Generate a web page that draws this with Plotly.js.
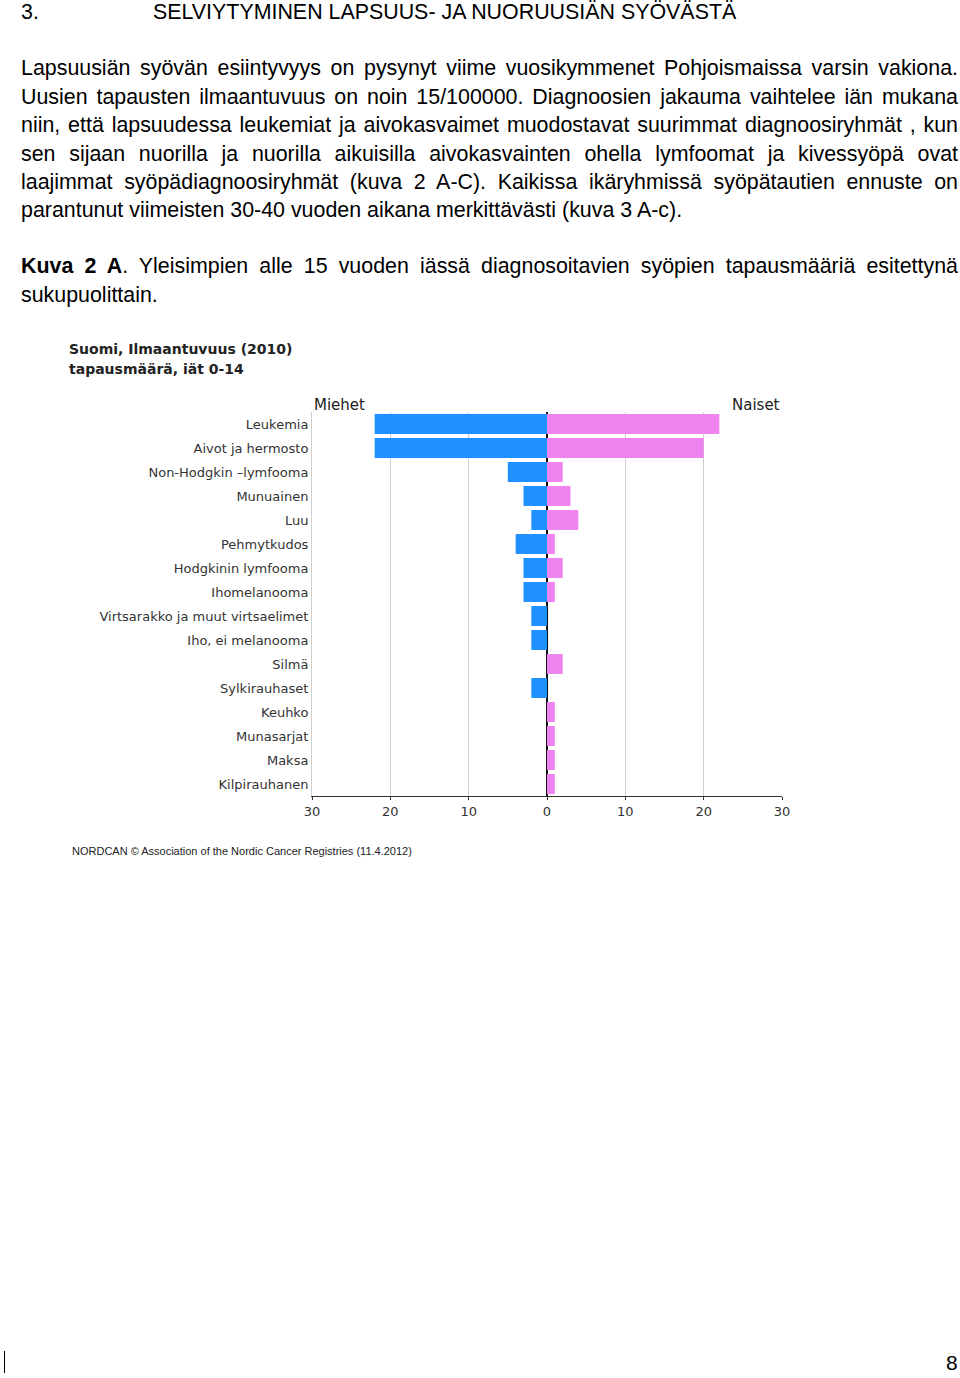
<!DOCTYPE html>
<html>
<head>
<meta charset="utf-8">
<script src="https://cdn.plot.ly/plotly-3.0.1.min.js"></script>
<style>
  html, body { margin:0; padding:0; background:#fff; }
  body { width:960px; height:1378px; position:relative; overflow:hidden; font-family:"Liberation Sans", Arial, sans-serif; color:#000; }
  #chart { position:absolute; left:0; top:0; width:960px; height:1378px; }
  .txt { position:absolute; left:21px; width:937px; font-size:21.4px; line-height:24px; white-space:nowrap; }
  .j { text-align:justify; text-align-last:justify; white-space:normal; }
  .pg { position:absolute; font-size:21px; }
</style>
</head>
<body>
<div id="chart"></div>
<div class="txt" style="top:0px;"><span>3.</span><span style="position:absolute;left:132px;">SELVIYTYMINEN LAPSUUS- JA NUORUUSIÄN SYÖVÄSTÄ</span></div>
<div class="txt j" style="top:56px;">Lapsuusiän syövän esiintyvyys on pysynyt viime vuosikymmenet Pohjoismaissa varsin vakiona.</div>
<div class="txt j" style="top:85px;">Uusien tapausten ilmaantuvuus on noin 15/100000. Diagnoosien jakauma vaihtelee iän mukana</div>
<div class="txt j" style="top:113px;">niin, että lapsuudessa leukemiat ja aivokasvaimet muodostavat suurimmat diagnoosiryhmät , kun</div>
<div class="txt j" style="top:142px;">sen sijaan nuorilla ja nuorilla aikuisilla aivokasvainten ohella lymfoomat ja kivessyöpä ovat</div>
<div class="txt j" style="top:170px;">laajimmat syöpädiagnoosiryhmät (kuva 2 A-C). Kaikissa ikäryhmissä syöpätautien ennuste on</div>
<div class="txt" style="top:198px;">parantunut viimeisten 30-40 vuoden aikana merkittävästi (kuva 3 A-c).</div>
<div class="txt j" style="top:254px;"><b>Kuva 2 A</b>. Yleisimpien alle 15 vuoden iässä diagnosoitavien syöpien tapausmääriä esitettynä</div>
<div class="txt" style="top:283px;">sukupuolittain.</div>
<div style="position:absolute;left:4px;top:1351px;width:1px;height:22px;background:#000;"></div>
<div class="pg" style="left:946px;top:1351px;">8</div>
<script>
const categories = ["Leukemia","Aivot ja hermosto","Non-Hodgkin –lymfooma","Munuainen","Luu","Pehmytkudos","Hodgkinin lymfooma","Ihomelanooma","Virtsarakko ja muut virtsaelimet","Iho, ei melanooma","Silmä","Sylkirauhaset","Keuhko","Munasarjat","Maksa","Kilpirauhanen"];
const men   = [22,22,5,3,2,4,3,3,2,2,0,2,0,0,0,0];
const women = [22,20,2,3,4,1,2,1,0,0,2,0,1,1,1,1];
const xTickVals = [-30,-20,-10,0,10,20,30];
const xTickText = ["30","20","10","0","10","20","30"];
const chartTitleLines = ["Suomi, Ilmaantuvuus (2010)", "tapausmäärä, iät 0-14"];
const leftLabel = "Miehet";
const rightLabel = "Naiset";
const sourceText = "NORDCAN © Association of the Nordic Cancer Registries (11.4.2012)";

const labFont = {family:"DejaVu Sans", size:13, color:"#333"};
const traces = [
  {type:"bar", orientation:"h", y:categories, x:men.map(v=>-v), marker:{color:"#1E90FF"}, name:leftLabel, hoverinfo:"skip"},
  {type:"bar", orientation:"h", y:categories, x:women, marker:{color:"#EE82EE"}, name:rightLabel, hoverinfo:"skip"}
];
const titleFont = {family:"DejaVu Sans", size:14, color:"#222"};
const layout = {
  width:960, height:1378,
  margin:{l:312, r:178, t:412, b:582, pad:0},
  paper_bgcolor:"#fff", plot_bgcolor:"#fff",
  barmode:"relative", bargap:0.17, showlegend:false,
  xaxis:{range:[-30,30], tickvals:xTickVals, ticktext:xTickText, showgrid:true, gridcolor:"#cfcfcf", gridwidth:1,
         zeroline:true, zerolinecolor:"#111", zerolinewidth:2, showline:true, linecolor:"#333", linewidth:1,
         ticks:"outside", ticklen:3, tickcolor:"#333", tickfont:{family:"DejaVu Sans", size:13, color:"#333"}, fixedrange:true},
  yaxis:{autorange:"reversed", showline:true, linecolor:"#cfcfcf", linewidth:1, showgrid:false, ticks:"", ticklabelstandoff:0,
         tickfont:labFont, fixedrange:true},
  annotations:[
    {xref:"paper", yref:"paper", x:-0.521, y:1 + (412-349)/384, xanchor:"left", yanchor:"middle", align:"left", showarrow:false,
     text:"<b>"+chartTitleLines[0]+"</b>", font:titleFont},
    {xref:"paper", yref:"paper", x:-0.521, y:1 + (412-369)/384, xanchor:"left", yanchor:"middle", align:"left", showarrow:false,
     text:"<b>"+chartTitleLines[1]+"</b>", font:titleFont},
    {xref:"paper", yref:"paper", x:0, y:1.0, yshift:-4, xanchor:"left", yanchor:"bottom", showarrow:false, text:leftLabel,
     font:{family:"DejaVu Sans", size:15, color:"#222"}},
    {xref:"paper", yref:"paper", x:1, y:1.0, yshift:-4, xanchor:"right", yanchor:"bottom", showarrow:false, text:rightLabel,
     font:{family:"DejaVu Sans", size:15, color:"#222"}},
    {xref:"paper", yref:"paper", x:-0.514, y:-0.143, xanchor:"left", yanchor:"middle", showarrow:false, text:sourceText,
     font:{family:"Liberation Sans", size:11, color:"#222"}}
  ]
};
Plotly.newPlot("chart", traces, layout, {staticPlot:true, displayModeBar:false});
</script>
</body>
</html>
